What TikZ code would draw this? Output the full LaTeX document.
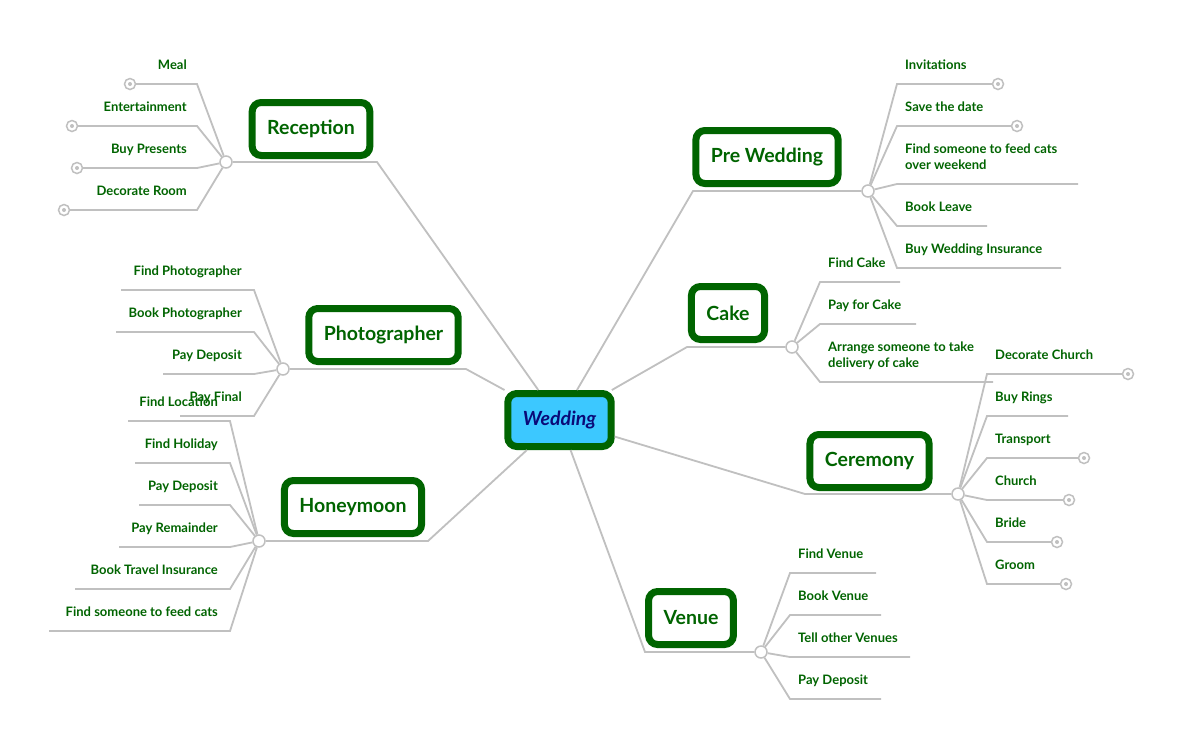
\documentclass[tikz,border=0pt]{standalone}
\usepackage{fontspec}
\setmainfont{Lato}
\usepackage{tikz}
\usetikzlibrary{calc}

\definecolor{mapgreen}{RGB}{0,100,0}
\definecolor{linegray}{RGB}{192,192,192}
\definecolor{skyfill}{RGB}{60,200,255}
\definecolor{navytext}{RGB}{10,10,120}

\tikzset{
  topic/.style={draw=mapgreen, line width=7pt, rounded corners=9pt, fill=white, text=mapgreen,
    font=\fontsize{19.5}{22}\selectfont\bfseries, minimum height=53pt, inner xsep=15pt},
  root/.style={topic, fill=skyfill, text=navytext, font=\fontsize{19.5}{22}\selectfont\bfseries\itshape},
  hub/.style={circle, draw=linegray, fill=white, line width=1.5pt, minimum size=12pt, inner sep=0pt},
  term/.style={circle, draw=linegray, fill=white, line width=1.5pt, minimum size=11pt, inner sep=0pt,
    path picture={\fill[linegray] (path picture bounding box.center) circle (2pt);}},
  branch/.style={draw=linegray, line width=1.8pt},
  leaf/.style={text=mapgreen, font=\fontsize{13}{16}\selectfont\bfseries, inner sep=0pt,
    text depth=3pt, align=left}
}

\begin{document}
\begin{tikzpicture}[x=1pt, y=-1pt]

    \fill[white] (0,0) rectangle (1185,748);
    \useasboundingbox (0,0) rectangle (1185,748);

    % Topics
    \node[root] (wed) at (559.5,420) {Wedding};
    \node[topic] (rec) at (311,129) {Reception};
    \node[topic] (photo) at (383.5,335) {Photographer};
    \node[topic] (honey) at (353,507) {Honeymoon};
    \node[topic] (pre) at (767,157) {Pre Wedding};
    \node[topic] (cake) at (728,313) {Cake};
    \node[topic] (cere) at (869.5,461) {Ceremony};
    \node[topic] (venue) at (691,618) {Venue};

    % Hubs
    \node[hub] (rechub) at (226,162) {};
    \node[hub] (photohub) at (283,369) {};
    \node[hub] (honeyhub) at (259,541) {};
    \node[hub] (prehub) at (868,191) {};
    \node[hub] (cakehub) at (792,347) {};
    \node[hub] (cerehub) at (958,494) {};
    \node[hub] (venuehub) at (761,652) {};

    % Underline corners
    \coordinate (recknee) at (377,162);
    \coordinate (photoknee) at (466,369);
    \coordinate (honeyknee) at (428,541);
    \coordinate (preknee) at (693,191);
    \coordinate (cakeknee) at (687,347);
    \coordinate (cereknee) at (805,494);
    \coordinate (venueknee) at (645,652);

    % Main branches
    \draw[branch] (wed) -- (recknee) -- (rechub);
    \draw[branch] (wed) -- (photoknee) -- (photohub);
    \draw[branch] (wed) -- (honeyknee) -- (honeyhub);
    \draw[branch] (wed) -- (preknee) -- (prehub);
    \draw[branch] (wed) -- (cakeknee) -- (cakehub);
    \draw[branch] (wed) -- (cereknee) -- (cerehub);
    \draw[branch] (wed) -- (venueknee) -- (venuehub);

    % Left leaves
    \foreach \ly/\xe/\capped/\lbl in {84/130/1/Meal, 126/72/1/Entertainment,
        168/77/1/Buy Presents, 210/64/1/Decorate Room}{
      \coordinate (knee) at (197,\ly);
      \coordinate (tip) at (\xe,\ly);
      \draw[branch] (rechub) -- (knee) -- (tip);
      \node[leaf, anchor=south east] at ($(knee)+(-10,-11.5)$) {\lbl};
      \ifnum\capped=1 \node[term] at (tip) {};\fi
    }
    \foreach \ly/\xe/\lbl in {290/121/Find Photographer, 332/116/Book Photographer,
        374/163/Pay Deposit, 416/180/Pay Final}{
      \coordinate (knee) at (254,\ly);
      \coordinate (tip) at (\xe,\ly);
      \draw[branch] (photohub) -- (knee) -- (tip);
      \node[leaf, anchor=south east] at ($(knee)+(-12,-11.5)$) {\lbl};
    }
    \foreach \ly/\xe/\lbl in {421/128/Find Location, 463/135/Find Holiday,
        505/139/Pay Deposit, 547/119/Pay Remainder, 589/75/Book Travel Insurance,
        631/49/Find someone to feed cats}{
      \coordinate (knee) at (230,\ly);
      \coordinate (tip) at (\xe,\ly);
      \draw[branch] (honeyhub) -- (knee) -- (tip);
      \node[leaf, anchor=south east] at ($(knee)+(-12,-11.5)$) {\lbl};
    }

    % Right leaves
    \foreach \ly/\xe/\capped/\lbl in {84/998/1/Invitations, 126/1017/1/Save the date,
        184/1078/0/{Find someone to feed cats\\over weekend}, 226/987/0/Book Leave,
        268/1061/0/Buy Wedding Insurance}{
      \coordinate (knee) at (897,\ly);
      \coordinate (tip) at (\xe,\ly);
      \draw[branch] (prehub) -- (knee) -- (tip);
      \node[leaf, anchor=south west] at ($(knee)+(8,-11.5)$) {\lbl};
      \ifnum\capped=1 \node[term] at (tip) {};\fi
    }
    \foreach \ly/\xe/\lbl in {282/900/Find Cake, 324/916/Pay for Cake,
        382/993/{Arrange someone to take\\delivery of cake}}{
      \coordinate (knee) at (820,\ly);
      \coordinate (tip) at (\xe,\ly);
      \draw[branch] (cakehub) -- (knee) -- (tip);
      \node[leaf, anchor=south west] at ($(knee)+(8,-11.5)$) {\lbl};
    }
    \foreach \ly/\xe/\capped/\lbl in {374/1128/1/Decorate Church, 416/1068/0/Buy Rings,
        458/1084/1/Transport, 500/1069/1/Church, 542/1057/1/Bride, 584/1066/1/Groom}{
      \coordinate (knee) at (987,\ly);
      \coordinate (tip) at (\xe,\ly);
      \draw[branch] (cerehub) -- (knee) -- (tip);
      \node[leaf, anchor=south west] at ($(knee)+(8,-11.5)$) {\lbl};
      \ifnum\capped=1 \node[term] at (tip) {};\fi
    }
    \foreach \ly/\xe/\lbl in {573/876/Find Venue, 615/881/Book Venue,
        657/910/Tell other Venues, 699/881/Pay Deposit}{
      \coordinate (knee) at (790,\ly);
      \coordinate (tip) at (\xe,\ly);
      \draw[branch] (venuehub) -- (knee) -- (tip);
      \node[leaf, anchor=south west] at ($(knee)+(8,-11.5)$) {\lbl};
    }

\end{tikzpicture}
\end{document}
